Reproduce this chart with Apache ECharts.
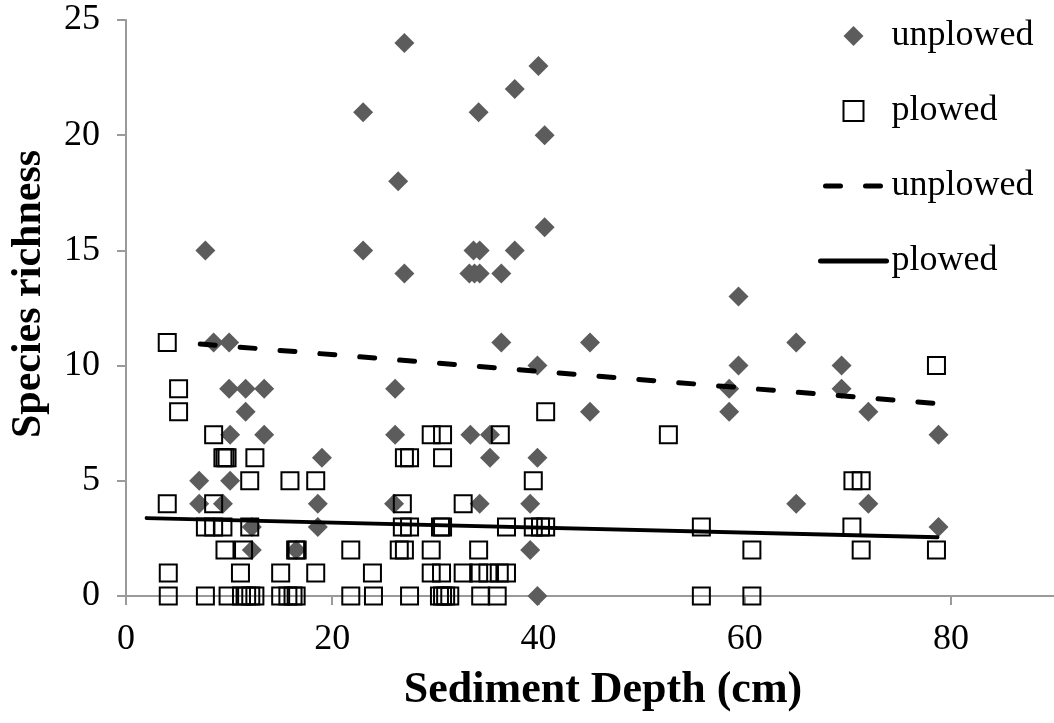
<!DOCTYPE html>
<html>
<head>
<meta charset="utf-8">
<script src="https://cdn.jsdelivr.net/npm/echarts@6/dist/echarts.min.js"></script>
<style>
  html, body { margin: 0; padding: 0; background: #fff; }
  #chart { width: 1054px; height: 723px; }
</style>
</head>
<body>
<div id="chart"></div>
<script>
// Species richness vs. sediment depth, unplowed and plowed plots
const unplowedX = [27.0, 40.0, 37.7, 23.0, 34.2, 40.6, 26.4, 40.6, 7.7, 23.0, 33.7, 34.3, 37.7,
  27.0, 33.3, 33.8, 34.3, 36.4, 59.4, 8.5, 10.0, 36.4, 45.0, 65.0, 39.9, 59.4, 69.4,
  10.0, 11.6, 13.4, 26.1, 58.5, 69.4, 11.6, 45.0, 58.5, 72.0, 10.1, 13.4, 26.1, 33.4,
  35.3, 78.8, 19.0, 35.3, 39.9, 7.1, 10.1, 7.1, 9.4, 18.6, 26.0, 34.3, 39.2, 65.0, 72.0,
  12.2, 18.6, 78.8, 12.2, 16.5, 39.2, 39.9];
const unplowedY = [24, 23, 22, 21, 21, 20, 18, 16, 15, 15, 15, 15, 15,
  14, 14, 14, 14, 14, 13, 11, 11, 11, 11, 11, 10, 10, 10,
  9, 9, 9, 9, 9, 9, 8, 8, 8, 8, 7, 7, 7, 7,
  7, 7, 6, 6, 6, 5, 5, 4, 4, 4, 4, 4, 4, 4, 4,
  3, 3, 3, 2, 2, 2, 0];

const plowedX = [4.0, 78.6, 5.1, 5.1, 40.7,
  8.5, 29.6, 30.7, 36.3, 52.6,
  9.4, 9.6, 9.8, 12.5, 27.0, 27.5, 30.7,
  12.0, 15.9, 18.4, 39.5, 70.5, 71.3,
  4.0, 8.5, 26.8, 32.7,
  7.7, 8.5, 9.4, 12.0, 26.8, 27.5, 30.5, 30.7, 36.9, 39.5, 40.2, 40.7, 55.8, 70.4,
  9.6, 11.4, 16.45, 16.6, 21.8, 26.5, 27.0, 29.6, 34.2, 60.7, 71.3, 78.6,
  4.1, 11.1, 15.0, 18.4, 23.9, 29.6, 30.6, 32.7, 34.2, 35.1, 36.2, 36.9,
  4.1, 7.7, 9.9, 11.2, 11.7, 12.1, 12.5, 15.0, 15.7, 16.2, 16.5, 21.8, 24.0, 27.5,
  30.4, 30.7, 31.0, 31.4, 34.4, 36.0, 55.8, 60.7];
const plowedY = [11, 10, 9, 8, 8,
  7, 7, 7, 7, 7,
  6, 6, 6, 6, 6, 6, 6,
  5, 5, 5, 5, 5, 5,
  4, 4, 4, 4,
  3, 3, 3, 3, 3, 3, 3, 3, 3, 3, 3, 3, 3, 3,
  2, 2, 2, 2, 2, 2, 2, 2, 2, 2, 2, 2,
  1, 1, 1, 1, 1, 1, 1, 1, 1, 1, 1, 1,
  0, 0, 0, 0, 0, 0, 0, 0, 0, 0, 0, 0, 0, 0,
  0, 0, 0, 0, 0, 0, 0, 0];

// Linear trend lines (end points)
const unplowedFitX = [7.2, 78.7];
const unplowedFitY = [10.94, 8.35];
const plowedFitX = [2.0, 78.7];
const plowedFitY = [3.38, 2.55];

const xTicks = [0, 20, 40, 60, 80];
const yTicks = [0, 5, 10, 15, 20, 25];

const pairs = (xs, ys) => xs.map((x, i) => [x, ys[i]]);

const serif = "'Times New Roman', 'Liberation Serif', serif";
const axisGray = '#9a9a9a';
const dashPattern = [15, 25];

const chart = echarts.init(document.getElementById('chart'), null, { renderer: 'canvas' });
chart.setOption({
  animation: false,
  backgroundColor: '#ffffff',
  grid: { left: 122, right: 0, top: 20, bottom: 127, containLabel: false },
  xAxis: {
    type: 'value', min: 0, max: 90, interval: 20,
    name: 'Sediment Depth (cm)', nameLocation: 'middle', nameGap: 73,
    nameTextStyle: { fontFamily: serif, fontWeight: 'bold', fontSize: 44, color: '#000', padding: [0, 0, 0, 26] },
    axisLine: { show: true, onZero: false, lineStyle: { color: axisGray, width: 2 } },
    axisTick: { show: true, length: 9, inside: false, customValues: xTicks, lineStyle: { color: axisGray, width: 2 } },
    axisLabel: { customValues: xTicks, margin: 26, fontFamily: serif, fontSize: 36, color: '#000' },
    splitLine: { show: false }
  },
  yAxis: {
    type: 'value', min: 0, max: 25, interval: 5,
    name: 'Species richness', nameLocation: 'middle', nameGap: 76,
    nameTextStyle: { fontFamily: serif, fontWeight: 'bold', fontSize: 42, color: '#000', padding: [0, 0, 0, 28] },
    axisLine: { show: true, lineStyle: { color: axisGray, width: 2 } },
    axisTick: { show: true, length: 9, customValues: yTicks, lineStyle: { color: axisGray, width: 2 } },
    axisLabel: { customValues: yTicks, margin: 26, fontFamily: serif, fontSize: 36, color: '#000' },
    splitLine: { show: false }
  },
  legend: {
    orient: 'vertical', left: 813, top: 11,
    itemWidth: 66, itemHeight: 20, itemGap: 35,
    symbolKeepAspect: true,
    textStyle: { fontFamily: serif, fontSize: 36, color: '#000', lineHeight: 40 },
    formatter: name => name.replace(' fit', ''),
    data: [
      { name: 'unplowed', icon: 'path://M0,-1L1,0L0,1L-1,0Z',
        itemStyle: { color: '#5c5c5c', borderWidth: 0 } },
      { name: 'plowed', icon: 'path://M0,0L1,0L1,1L0,1Z',
        itemStyle: { color: 'rgba(255,255,255,0)', borderColor: '#000', borderWidth: 2 } },
      { name: 'unplowed fit', itemStyle: { opacity: 0 },
        lineStyle: { color: '#000', width: 5, type: dashPattern, dashOffset: 35, cap: 'round' } },
      { name: 'plowed fit', itemStyle: { opacity: 0 },
        lineStyle: { color: '#000', width: 5, type: 'solid', cap: 'round' } }
    ]
  },
  series: [
    {
      name: 'unplowed', type: 'scatter', symbol: 'diamond', symbolSize: 20,
      itemStyle: { color: '#5c5c5c', opacity: 1 },
      data: pairs(unplowedX, unplowedY), z: 2
    },
    {
      name: 'plowed', type: 'scatter', symbol: 'rect', symbolSize: 17,
      itemStyle: { color: 'rgba(255,255,255,0)', borderColor: '#000', borderWidth: 2, opacity: 1 },
      data: pairs(plowedX, plowedY), z: 3
    },
    {
      name: 'unplowed fit', type: 'line', symbol: 'none', silent: true,
      itemStyle: { color: '#000' },
      lineStyle: { color: '#000', width: 5, type: dashPattern, cap: 'round' },
      data: pairs(unplowedFitX, unplowedFitY), z: 4
    },
    {
      name: 'plowed fit', type: 'line', symbol: 'none', silent: true,
      itemStyle: { color: '#000' },
      lineStyle: { color: '#000', width: 4, type: 'solid', cap: 'round' },
      data: pairs(plowedFitX, plowedFitY), z: 4
    }
  ]
});
</script>
</body>
</html>
